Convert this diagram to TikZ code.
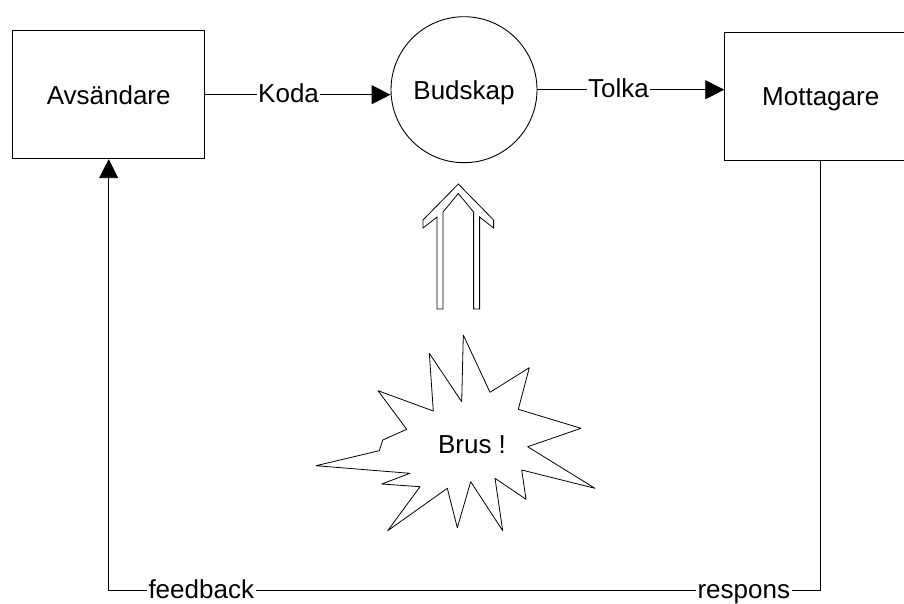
\documentclass[tikz,border=0pt]{standalone}
\usepackage{fontspec}
\setmainfont{Liberation Sans}
\usetikzlibrary{arrows.meta}

\begin{document}
\begin{tikzpicture}[x=1pt, y=-1pt, line cap=round, line width=0.9pt,
    every node/.style={font=\fontsize{26}{30}\selectfont, text depth=0pt},
    box/.style={draw, rectangle, minimum width=192pt, minimum height=128pt},
    msg/.style={draw, circle, minimum size=146pt, inner sep=0pt},
    lbl/.style={fill=white, inner sep=1.5pt, anchor=base, yshift=-8pt},
    flow/.style={-{Triangle[length=19pt, width=19pt]}}]

    \useasboundingbox (0,0) rectangle (904,603);
    \clip (0,0) rectangle (904,603);

    \node[box] (avs) at (108.7,94.7) {Avsändare};
    \node[msg] (bud) at (464,89.7) {Budskap};
    \node[box] (mot) at (820.7,96.5) {Mottagare};
    \coordinate (bot) at (0,590);

    \draw[flow] (avs.east) -- (bud.west |- avs.east) node[lbl, pos=0.45] {Koda};
    \draw[flow] (bud.east) -- (bud.east -| mot.west) node[lbl, pos=0.434] {Tolka};
    \draw[flow] (mot.south) -- (mot.south |- bot)
        -- node[lbl, pos=0.108] {respons} node[lbl, pos=0.87] {feedback} (avs.south |- bot)
        -- (avs.south);

    % hollow arrow
    \draw[line width=0.8pt] (458.3,184) -- (423,220) -- (423,228) -- (437,217) -- (437,309)
        -- (443,309) -- (443,212) -- (458.3,193.5) -- (473.6,212) -- (473.6,309)
        -- (479.6,309) -- (479.6,217) -- (493.6,228) -- (493.6,220) -- cycle;

    % noise
    \draw[line width=0.8pt, line join=round] (463.3,335) -- (490,392.3) -- (529.3,367.7) -- (518.3,409.3)
        -- (581,428.3) -- (527.7,446.7) -- (595,488.3) -- (521.7,470) -- (526,499.3)
        -- (495,478.3) -- (502.7,530.7) -- (470.7,481.7) -- (457.3,527.7) -- (447.3,488.3)
        -- (387.7,530.7) -- (420,486.7) -- (381.7,484) -- (410,473.3) -- (316,465.7)
        -- (379.3,450.7) -- (382.7,440) -- (406.7,429.3) -- (378,390.7) -- (433.3,411)
        -- (429.3,353.3) -- (461.7,401.7) -- cycle;
    \node (brus) at (472,445) {Brus !};

\end{tikzpicture}
\end{document}
